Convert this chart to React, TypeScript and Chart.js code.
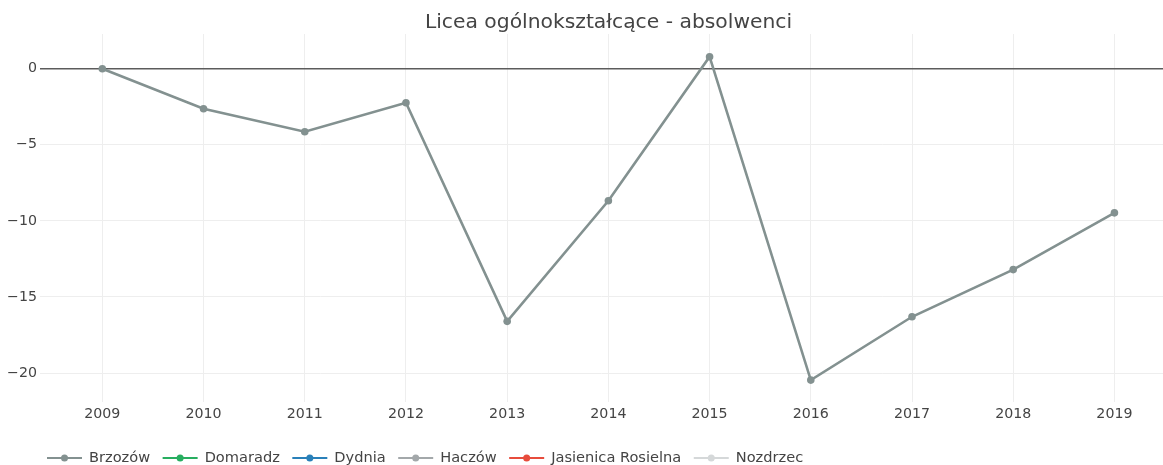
import React, { useEffect, useRef } from "react";
import { Chart, registerables } from "chart.js";

Chart.register(...registerables);

const chartTitle = "Licea ogólnokształcące - absolwenci";
const years = [2009, 2010, 2011, 2012, 2013, 2014, 2015, 2016, 2017, 2018, 2019];
const brzozow = [0, -2.63, -4.14, -2.24, -16.6, -8.68, 0.79, -20.46, -16.3, -13.2, -9.47];
const domaradz: (number | null)[] = [];
const dydnia: (number | null)[] = [];
const haczow: (number | null)[] = [];
const jasienica: (number | null)[] = [];
const nozdrzec: (number | null)[] = [];
const seriesNames = ["Brzozów", "Domaradz", "Dydnia", "Haczów", "Jasienica Rosielna", "Nozdrzec"];
const seriesValues = [brzozow, domaradz, dydnia, haczow, jasienica, nozdrzec];
const seriesColors = ["#839190", "#27ae60", "#2980b9", "#a3a8aa", "#e74c3c", "#d5d8d9"];
const yTickValues = [-20, -15, -10, -5, 0];

const FONT = '"DejaVu Sans", Verdana, sans-serif';
const TEXT = "#444";

const titlePlugin = {
  id: "customTitle",
  afterDraw(chart: any) {
    const ctx = chart.ctx;
    ctx.save();
    ctx.font = `20.3px ${FONT}`;
    ctx.fillStyle = TEXT;
    ctx.textAlign = "center";
    ctx.textBaseline = "alphabetic";
    ctx.fillText(chartTitle, chart.width / 2 + 27, 28);
    ctx.restore();
  },
};

const legendPlugin = {
  id: "customLegend",
  afterDraw(chart: any) {
    const ctx = chart.ctx;
    ctx.save();
    ctx.font = `14.6px ${FONT}`;
    ctx.textBaseline = "middle";
    ctx.textAlign = "left";
    const y = 458;
    let x = 47;
    chart.data.datasets.forEach((ds: any) => {
      const c = ds.borderColor;
      ctx.strokeStyle = c;
      ctx.lineWidth = 2;
      ctx.beginPath();
      ctx.moveTo(x, y);
      ctx.lineTo(x + 35, y);
      ctx.stroke();
      ctx.fillStyle = c;
      ctx.beginPath();
      ctx.arc(x + 17.5, y, 3.5, 0, Math.PI * 2);
      ctx.fill();
      ctx.fillStyle = TEXT;
      ctx.fillText(ds.label, x + 42, y);
      x += 42 + ctx.measureText(ds.label).width + 12.5;
    });
    ctx.restore();
  },
};

export default function App() {
  const ref = useRef<HTMLCanvasElement | null>(null);
  useEffect(() => {
    document.body.style.margin = "0";
    const canvas = ref.current;
    if (!canvas) return;
    const datasets = seriesNames.map((name, i) => ({
      label: name,
      data: seriesValues[i].map((v, j) => ({ x: years[j], y: v })),
      borderColor: seriesColors[i],
      backgroundColor: seriesColors[i],
      borderWidth: 2.6,
      pointRadius: 3.8,
      pointBorderWidth: 0,
      pointHoverRadius: 4,
      tension: 0,
      fill: false,
      clip: 8,
    }));
    const chart = new Chart(canvas, {
      type: "line",
      data: { datasets },
      plugins: [titlePlugin, legendPlugin],
      options: {
        animation: false,
        responsive: false,
        maintainAspectRatio: false,
        layout: { autoPadding: false, padding: { top: 34, bottom: 41, left: 0, right: 0 } },
        plugins: {
          legend: { display: false },
          title: { display: false },
          tooltip: { enabled: false },
        },
        scales: {
          x: {
            type: "linear",
            min: 2008.384,
            max: 2019.48,
            afterBuildTicks: (scale: any) => {
              scale.ticks = years.map((v) => ({ value: v }));
            },
            afterFit: (scale: any) => {
              scale.height = 22;
              scale.paddingLeft = 0;
              scale.paddingRight = 0;
            },
            grid: { color: "#eeeeee", lineWidth: 1, drawTicks: false },
            border: { display: false },
            ticks: {
              color: TEXT,
              font: { family: FONT, size: 14.2 },
              padding: 4,
              maxRotation: 0,
              autoSkip: false,
              callback: (v: any) => String(v),
            },
          },
          y: {
            type: "linear",
            min: -21.9,
            max: 2.28,
            afterBuildTicks: (scale: any) => {
              scale.ticks = yTickValues.map((v) => ({ value: v }));
            },
            afterFit: (scale: any) => {
              scale.width = 40;
            },
            grid: {
              color: (c: any) => (c.tick && c.tick.value === 0 ? "#5c5c5c" : "#eeeeee"),
              lineWidth: (c: any) => (c.tick && c.tick.value === 0 ? 1.6 : 1),
              drawTicks: false,
            },
            border: { display: false },
            ticks: {
              color: TEXT,
              font: { family: FONT, size: 14.2 },
              padding: 3,
              callback: (v: any) => (v < 0 ? "\u2212" + Math.abs(v) : String(v)),
            },
          },
        },
      },
    });
    return () => chart.destroy();
  }, []);
  return <canvas ref={ref} width={1163} height={465} style={{ display: "block", width: 1163, height: 465 }} />;
}
